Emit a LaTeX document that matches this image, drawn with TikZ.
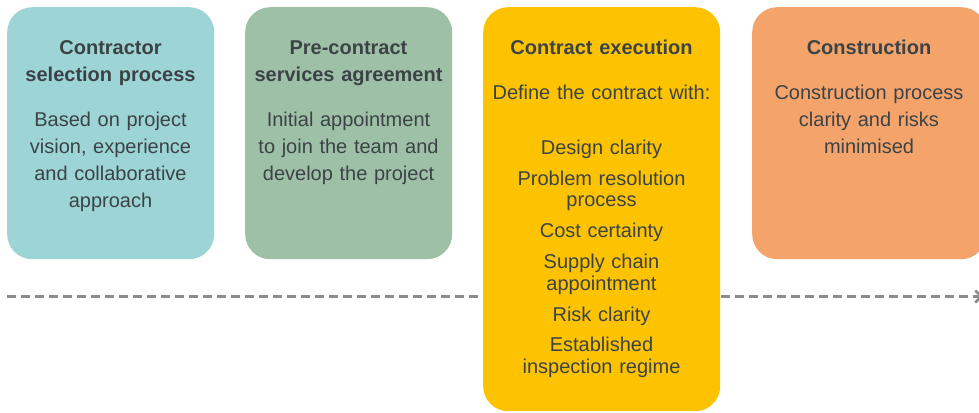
\documentclass[tikz,border=0pt]{standalone}
\usepackage{fontspec}
\setmainfont{Liberation Sans}
\usetikzlibrary{arrows.meta}
\definecolor{cteal}{HTML}{9DD4D6}
\definecolor{csage}{HTML}{9DC0A6}
\definecolor{cyel}{HTML}{FDC300}
\definecolor{corange}{HTML}{F4A36B}
\definecolor{ctext}{HTML}{3C4346}
\definecolor{cline}{HTML}{8C8C8C}
\begin{document}
\begin{tikzpicture}[x=1pt,y=-1pt,
  card/.style={rounded corners=25pt, inner sep=0pt, anchor=north west, draw=none},
  ttl/.style={text=ctext, font=\fontsize{20}{27}\selectfont\bfseries, text width=240pt, align=center, anchor=base, inner sep=0pt},
  bod/.style={text=ctext, font=\fontsize{20}{27}\selectfont, text width=240pt, align=center, anchor=base, inner sep=0pt},
  itm/.style={text=ctext, font=\fontsize{20}{21.7}\selectfont, text width=240pt, align=center, anchor=base, inner sep=0pt},
  flow/.style={cline, line width=2.5pt, dash pattern=on 9pt off 5pt, -{Straight Barb[length=6pt,width=12pt]}}]
\useasboundingbox (0,0) rectangle (979,412);
% timeline
\coordinate (s) at (7,296.5);
\coordinate (e) at (983,296.5);
\draw[flow] (s) -- (e);
% cards
\node[card, fill=cteal, minimum width=207pt, minimum height=252pt] (b1) at (7,7) {};
\node[card, fill=csage, minimum width=207pt, minimum height=252pt] (b2) at (245,7) {};
\node[card, fill=cyel, minimum width=237pt, minimum height=404pt] (b3) at (483,7) {};
\node[card, fill=corange, minimum width=234pt, minimum height=252pt] (b4) at (752,7) {};
% card 1
\node[ttl] (t1) at (110.5,55) {Contractor\\selection process};
\node[bod] (d1) at (110.5,126.7) {Based on project\\vision, experience\\and collaborative\\approach};
% card 2
\node[ttl] (t2) at (348.5,55) {Pre-contract\\services agreement};
\node[bod] (d2) at (348.5,126.7) {Initial appointment\\to join the team and\\develop the project};
% card 3
\node[ttl] (t3) at (601.5,55) {Contract execution};
\node[bod] (d3) at (601.5,99.3) {Define the contract with:};
\node[itm] (i1) at (601.5,154) {Design clarity};
\node[itm] (i2) at (601.5,185) {Problem resolution\\process};
\node[itm] (i3) at (601.5,237.7) {Cost certainty};
\node[itm] (i4) at (601.5,268.3) {Supply chain\\appointment};
\node[itm] (i5) at (601.5,321.7) {Risk clarity};
\node[itm] (i6) at (601.5,351.7) {Established\\inspection regime};
% card 4
\node[ttl] (t4) at (869,55) {Construction};
\node[bod] (d4) at (869,99.3) {Construction process\\clarity and risks\\minimised};
\end{tikzpicture}
\end{document}
